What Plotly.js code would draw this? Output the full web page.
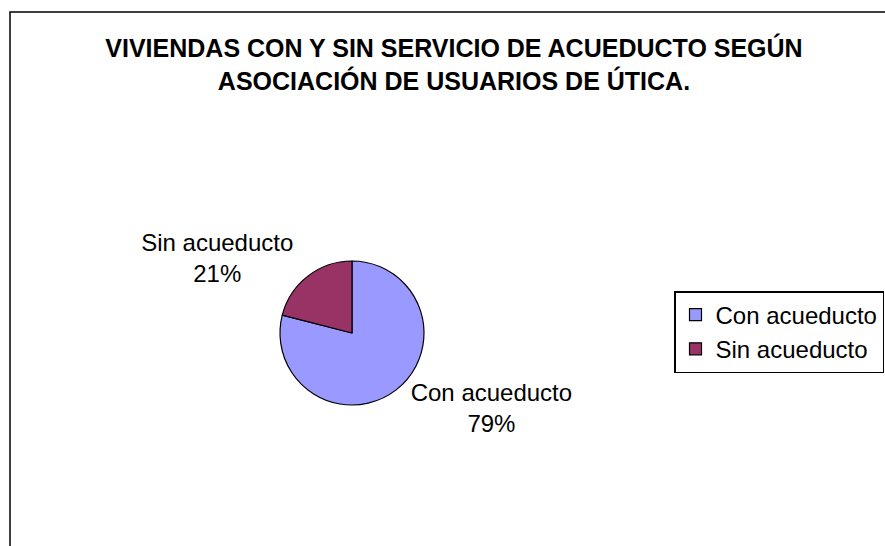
<!DOCTYPE html>
<html>
<head>
<meta charset="utf-8">
<script src="https://cdn.plot.ly/plotly-3.0.1.min.js"></script>
<style>html,body{margin:0;padding:0;background:#fff}#chart{width:885px;height:546px}</style>
</head>
<body>
<div id="chart"></div>
<script>
const categories = ["Con acueducto", "Sin acueducto"];
const shares = [79, 21];
const sliceColors = ["#9999FF", "#993366"];
const chartTitle = "VIVIENDAS CON Y SIN SERVICIO DE ACUEDUCTO SEGÚN<br>ASOCIACIÓN DE USUARIOS DE ÚTICA.";

const W = 885, H = 546;
const cx = 352, cy = 333, r = 72;

const data = [{
  type: "pie",
  labels: categories,
  values: shares,
  sort: false,
  direction: "clockwise",
  rotation: 0,
  marker: { colors: sliceColors, line: { color: "#000000", width: 1.2 } },
  textposition: "outside",
  texttemplate: "%{label}<br>%{percent:.0%}",
  textfont: { family: "Liberation Sans, Arial, sans-serif", size: 24, color: "#000000" },
  hoverinfo: "label+percent",
  domain: { x: [(cx - r) / W, (cx + r) / W], y: [1 - (cy + r) / H, 1 - (cy - r) / H] },
  showlegend: true
}];

const layout = {
  width: W, height: H,
  margin: { l: 0, r: 0, t: 0, b: 0 },
  paper_bgcolor: "#ffffff",
  font: { family: "Liberation Sans, Arial, sans-serif", color: "#000000" },
  title: {
    text: chartTitle,
    font: { family: "Liberation Sans, Arial, sans-serif", size: 25, color: "#000000", weight: "bold" },
    x: 454 / W, xanchor: "center",
    y: 1 - 57 / H, yanchor: "middle"
  },
  legend: {
    x: 884 / W, xanchor: "right",
    y: 1 - 291 / H, yanchor: "top",
    bordercolor: "#000000", borderwidth: 1.5,
    bgcolor: "#ffffff",
    font: { family: "Liberation Sans, Arial, sans-serif", size: 24, color: "#000000" },
    itemwidth: 30
  },
  shapes: [{
    type: "rect", xref: "paper", yref: "paper",
    x0: 10 / W, x1: 1.05, y0: -0.05, y1: 1 - 12 / H,
    line: { color: "#000000", width: 1.5 }, fillcolor: "rgba(0,0,0,0)", layer: "below"
  }]
};

Plotly.newPlot("chart", data, layout, { displayModeBar: false, staticPlot: true });
</script>
</body>
</html>
